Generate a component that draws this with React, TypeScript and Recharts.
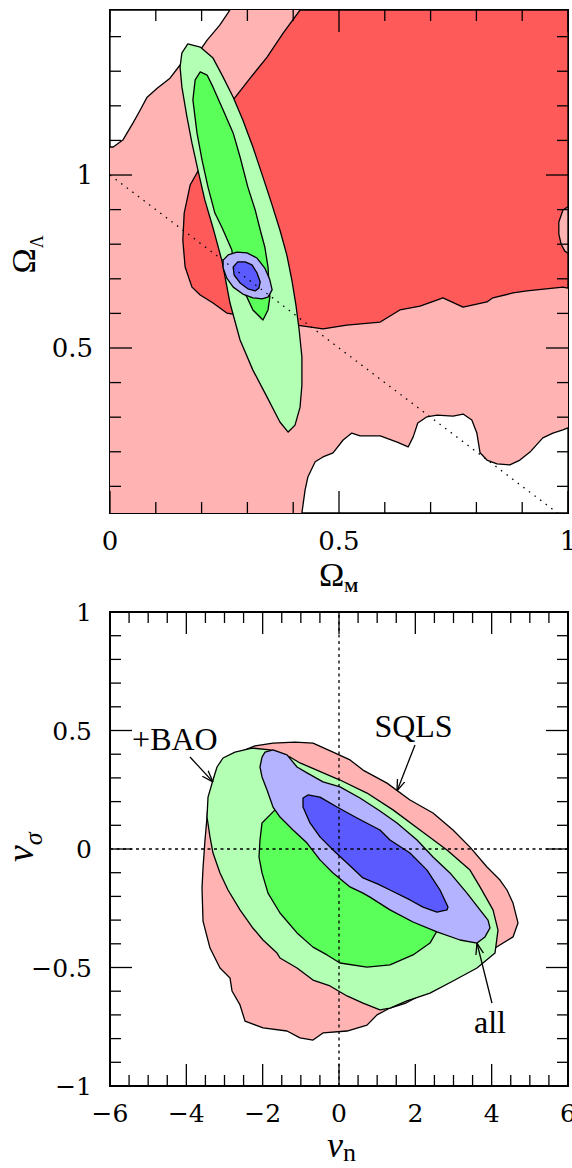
import React from "react";
import { ScatterChart, Scatter, XAxis, YAxis, ReferenceDot } from "recharts";

type Pt = { x: number; y: number };
type Side = "bottom" | "top" | "left" | "right";

// ---------- upper panel: Omega_M vs Omega_Lambda ----------
const omTicks = [0, 0.1, 0.2, 0.3, 0.4, 0.5, 0.6, 0.7, 0.8, 0.9, 1];
const omMajor = [0, 0.5, 1];
const omLabels = ["0", "0.5", "1"];
const olTicks = [0.1, 0.2, 0.3, 0.4, 0.5, 0.6, 0.7, 0.8, 0.9, 1, 1.1, 1.2, 1.3, 1.4];
const olMajor = [0.5, 1];
const olLabels = ["0.5", "1"];
const omDomain: [number, number] = [0, 1];
const olDomain: [number, number] = [0.023, 1.477];

const snPink: Pt[] = [
  { x: 0, y: 0.023 }, { x: 1, y: 0.023 }, { x: 1, y: 1.477 }, { x: 0, y: 1.477 },
];
const snWhiteUpper: Pt[] = [
  { x: 0, y: 1.477 }, { x: 0, y: 1.081 }, { x: 0.007, y: 1.081 }, { x: 0.028, y: 1.101 },
  { x: 0.05, y: 1.15 }, { x: 0.066, y: 1.188 }, { x: 0.081, y: 1.225 }, { x: 0.103, y: 1.251 },
  { x: 0.131, y: 1.28 }, { x: 0.153, y: 1.318 }, { x: 0.197, y: 1.361 }, { x: 0.212, y: 1.39 },
  { x: 0.225, y: 1.41 }, { x: 0.24, y: 1.434 }, { x: 0.262, y: 1.477 },
];
const snRed: Pt[] = [
  { x: 0.415, y: 1.477 }, { x: 1, y: 1.477 }, { x: 1, y: 0.673 }, { x: 0.989, y: 0.676 },
  { x: 0.91, y: 0.665 }, { x: 0.88, y: 0.659 }, { x: 0.836, y: 0.645 }, { x: 0.823, y: 0.633 },
  { x: 0.771, y: 0.618 }, { x: 0.727, y: 0.645 }, { x: 0.677, y: 0.621 }, { x: 0.633, y: 0.61 },
  { x: 0.59, y: 0.575 }, { x: 0.517, y: 0.566 }, { x: 0.465, y: 0.555 }, { x: 0.408, y: 0.566 },
  { x: 0.349, y: 0.581 }, { x: 0.255, y: 0.601 }, { x: 0.225, y: 0.63 }, { x: 0.197, y: 0.653 },
  { x: 0.179, y: 0.676 }, { x: 0.164, y: 0.734 }, { x: 0.159, y: 0.812 }, { x: 0.162, y: 0.89 },
  { x: 0.175, y: 0.971 }, { x: 0.197, y: 1.023 }, { x: 0.229, y: 1.101 }, { x: 0.269, y: 1.217 },
  { x: 0.306, y: 1.28 }, { x: 0.343, y: 1.341 }, { x: 0.378, y: 1.41 },
];
const snBump: Pt[] = [
  { x: 1, y: 0.908 }, { x: 0.989, y: 0.899 }, { x: 0.98, y: 0.864 }, { x: 0.98, y: 0.829 },
  { x: 0.985, y: 0.8 }, { x: 0.993, y: 0.78 }, { x: 1, y: 0.774 },
];
const snWhiteLower: Pt[] = [
  { x: 0.419, y: 0.023 }, { x: 0.426, y: 0.09 }, { x: 0.432, y: 0.127 }, { x: 0.448, y: 0.171 },
  { x: 0.465, y: 0.185 }, { x: 0.487, y: 0.197 }, { x: 0.509, y: 0.234 }, { x: 0.528, y: 0.254 },
  { x: 0.546, y: 0.246 }, { x: 0.59, y: 0.246 }, { x: 0.627, y: 0.228 }, { x: 0.651, y: 0.214 },
  { x: 0.662, y: 0.243 }, { x: 0.672, y: 0.283 }, { x: 0.692, y: 0.301 }, { x: 0.714, y: 0.306 },
  { x: 0.749, y: 0.303 }, { x: 0.771, y: 0.309 }, { x: 0.79, y: 0.292 }, { x: 0.801, y: 0.254 },
  { x: 0.808, y: 0.197 }, { x: 0.823, y: 0.176 }, { x: 0.845, y: 0.165 }, { x: 0.873, y: 0.162 },
  { x: 0.895, y: 0.176 }, { x: 0.917, y: 0.199 }, { x: 0.945, y: 0.24 }, { x: 0.967, y: 0.254 },
  { x: 0.989, y: 0.263 }, { x: 1, y: 0.269 }, { x: 1, y: 0.023 },
];
const baoOuter: Pt[] = [
  { x: 0.17, y: 1.379 }, { x: 0.197, y: 1.37 }, { x: 0.225, y: 1.338 }, { x: 0.247, y: 1.283 },
  { x: 0.269, y: 1.225 }, { x: 0.29, y: 1.159 }, { x: 0.312, y: 1.081 }, { x: 0.334, y: 0.994 },
  { x: 0.354, y: 0.913 }, { x: 0.371, y: 0.841 }, { x: 0.386, y: 0.769 }, { x: 0.397, y: 0.697 },
  { x: 0.406, y: 0.624 }, { x: 0.413, y: 0.552 }, { x: 0.419, y: 0.474 }, { x: 0.419, y: 0.393 },
  { x: 0.415, y: 0.329 }, { x: 0.404, y: 0.277 }, { x: 0.389, y: 0.257 }, { x: 0.371, y: 0.286 },
  { x: 0.343, y: 0.358 }, { x: 0.312, y: 0.436 }, { x: 0.284, y: 0.523 }, { x: 0.262, y: 0.63 },
  { x: 0.245, y: 0.749 }, { x: 0.225, y: 0.847 }, { x: 0.207, y: 0.928 }, { x: 0.192, y: 1.014 },
  { x: 0.179, y: 1.092 }, { x: 0.168, y: 1.168 }, { x: 0.157, y: 1.254 }, { x: 0.153, y: 1.312 },
  { x: 0.157, y: 1.353 },
];
const baoInner: Pt[] = [
  { x: 0.197, y: 1.298 }, { x: 0.212, y: 1.289 }, { x: 0.225, y: 1.254 }, { x: 0.247, y: 1.188 },
  { x: 0.269, y: 1.121 }, { x: 0.284, y: 1.052 }, { x: 0.301, y: 0.965 }, { x: 0.317, y: 0.899 },
  { x: 0.328, y: 0.841 }, { x: 0.338, y: 0.792 }, { x: 0.345, y: 0.734 }, { x: 0.349, y: 0.647 },
  { x: 0.345, y: 0.61 }, { x: 0.334, y: 0.581 }, { x: 0.312, y: 0.61 }, { x: 0.299, y: 0.647 },
  { x: 0.275, y: 0.697 }, { x: 0.266, y: 0.783 }, { x: 0.245, y: 0.847 }, { x: 0.229, y: 0.89 },
  { x: 0.214, y: 0.965 }, { x: 0.201, y: 1.043 }, { x: 0.19, y: 1.121 }, { x: 0.181, y: 1.217 },
  { x: 0.186, y: 1.275 },
];
const allOuter: Pt[] = [
  { x: 0.247, y: 0.754 }, { x: 0.258, y: 0.769 }, { x: 0.277, y: 0.777 }, { x: 0.299, y: 0.775 },
  { x: 0.321, y: 0.76 }, { x: 0.338, y: 0.731 }, { x: 0.349, y: 0.697 }, { x: 0.354, y: 0.668 },
  { x: 0.345, y: 0.647 }, { x: 0.332, y: 0.642 }, { x: 0.312, y: 0.645 }, { x: 0.29, y: 0.656 },
  { x: 0.269, y: 0.676 }, { x: 0.255, y: 0.702 }, { x: 0.247, y: 0.731 },
];
const allInner: Pt[] = [
  { x: 0.269, y: 0.734 }, { x: 0.279, y: 0.749 }, { x: 0.295, y: 0.749 }, { x: 0.31, y: 0.74 },
  { x: 0.321, y: 0.717 }, { x: 0.328, y: 0.691 }, { x: 0.325, y: 0.673 }, { x: 0.317, y: 0.665 },
  { x: 0.301, y: 0.671 }, { x: 0.284, y: 0.688 }, { x: 0.271, y: 0.711 },
];
// flat universe, Omega_M + Omega_Lambda = 1
const flatLine: Pt[] = [{ x: 0, y: 1 }, { x: 0.977, y: 0.023 }];

// ---------- lower panel: nu_n vs nu_sigma ----------
const nnTicks = [-6, -5.5, -5, -4.5, -4, -3.5, -3, -2.5, -2, -1.5, -1, -0.5, 0, 0.5, 1, 1.5, 2, 2.5, 3, 3.5, 4, 4.5, 5, 5.5, 6];
const nnMajor = [-6, -4, -2, 0, 2, 4, 6];
const nnLabels = ["\u22126", "\u22124", "\u22122", "0", "2", "4", "6"];
const nsTicks = [-1, -0.9, -0.8, -0.7, -0.6, -0.5, -0.4, -0.3, -0.2, -0.1, 0, 0.1, 0.2, 0.3, 0.4, 0.5, 0.6, 0.7, 0.8, 0.9, 1];
const nsMajor = [-1, -0.5, 0, 0.5, 1];
const nsLabels = ["\u22121", "\u22120.5", "0", "0.5", "1"];
const nnDomain: [number, number] = [-6, 6];
const nsDomain: [number, number] = [-1, 1];

const sqls: Pt[] = [
  { x: -2.463, y: 0.418 }, { x: -2.201, y: 0.435 }, { x: -1.729, y: 0.447 }, { x: -1.153, y: 0.451 },
  { x: -0.681, y: 0.447 }, { x: -0.157, y: 0.409 }, { x: 0.288, y: 0.376 }, { x: 0.629, y: 0.333 },
  { x: 1.258, y: 0.278 }, { x: 1.86, y: 0.207 }, { x: 2.463, y: 0.152 }, { x: 2.987, y: 0.08 },
  { x: 3.432, y: 0.008 }, { x: 3.877, y: -0.076 }, { x: 4.218, y: -0.131 }, { x: 4.401, y: -0.173 },
  { x: 4.559, y: -0.228 }, { x: 4.69, y: -0.312 }, { x: 4.559, y: -0.371 }, { x: 4.087, y: -0.418 },
  { x: 3.956, y: -0.435 }, { x: 3.17, y: -0.532 }, { x: 2.646, y: -0.574 }, { x: 1.755, y: -0.65 },
  { x: 1.336, y: -0.671 }, { x: 0.996, y: -0.7 }, { x: 0.734, y: -0.743 }, { x: 0.21, y: -0.768 },
  { x: -0.419, y: -0.776 }, { x: -0.681, y: -0.806 }, { x: -1.022, y: -0.797 }, { x: -1.362, y: -0.768 },
  { x: -1.991, y: -0.755 }, { x: -2.463, y: -0.726 }, { x: -2.594, y: -0.658 }, { x: -2.803, y: -0.599 },
  { x: -2.856, y: -0.544 }, { x: -3.118, y: -0.502 }, { x: -3.38, y: -0.418 }, { x: -3.563, y: -0.304 },
  { x: -3.589, y: -0.165 }, { x: -3.563, y: -0.08 }, { x: -3.511, y: 0.038 }, { x: -3.432, y: 0.181 },
  { x: -3.249, y: 0.312 }, { x: -2.856, y: 0.388 },
];
const sqlsBaoOuter: Pt[] = [
  { x: -3.301, y: 0.291 }, { x: -3.196, y: 0.346 }, { x: -3.039, y: 0.384 }, { x: -2.725, y: 0.409 },
  { x: -2.279, y: 0.426 }, { x: -1.808, y: 0.418 }, { x: -1.284, y: 0.388 }, { x: -1.022, y: 0.363 },
  { x: 0.026, y: 0.291 }, { x: 0.734, y: 0.236 }, { x: 1.415, y: 0.165 }, { x: 2.122, y: 0.08 },
  { x: 2.829, y: -0.004 }, { x: 3.432, y: -0.089 }, { x: 3.694, y: -0.16 }, { x: 4.035, y: -0.257 },
  { x: 4.166, y: -0.342 }, { x: 4.087, y: -0.439 }, { x: 3.615, y: -0.502 }, { x: 2.987, y: -0.557 },
  { x: 2.384, y: -0.608 }, { x: 1.781, y: -0.641 }, { x: 1.336, y: -0.671 }, { x: 1.074, y: -0.679 },
  { x: 0.629, y: -0.65 }, { x: 0.21, y: -0.62 }, { x: -0.236, y: -0.578 }, { x: -0.681, y: -0.553 },
  { x: -1.1, y: -0.502 }, { x: -1.546, y: -0.46 }, { x: -1.624, y: -0.439 }, { x: -1.991, y: -0.384 },
  { x: -2.279, y: -0.329 }, { x: -2.594, y: -0.257 }, { x: -2.908, y: -0.173 }, { x: -3.118, y: -0.101 },
  { x: -3.301, y: -0.017 }, { x: -3.38, y: 0.051 }, { x: -3.458, y: 0.135 }, { x: -3.432, y: 0.219 },
];
const sqlsBaoInner: Pt[] = [
  { x: -1.677, y: 0.165 }, { x: -2.017, y: 0.11 }, { x: -2.07, y: 0.038 }, { x: -2.096, y: -0.034 },
  { x: -2.017, y: -0.101 }, { x: -1.86, y: -0.186 }, { x: -1.546, y: -0.27 }, { x: -1.1, y: -0.354 },
  { x: -0.681, y: -0.414 }, { x: -0.314, y: -0.447 }, { x: 0.026, y: -0.481 }, { x: 0.734, y: -0.498 },
  { x: 1.336, y: -0.489 }, { x: 1.939, y: -0.447 }, { x: 2.384, y: -0.397 }, { x: 2.567, y: -0.346 },
  { x: 2.122, y: -0.215 }, { x: 0.812, y: -0.046 }, { x: -0.498, y: 0.08 }, { x: -1.284, y: 0.156 },
];
const combinedOuter: Pt[] = [
  { x: -2.017, y: 0.388 }, { x: -1.939, y: 0.409 }, { x: -1.729, y: 0.418 }, { x: -1.362, y: 0.397 },
  { x: -1.1, y: 0.346 }, { x: -0.838, y: 0.321 }, { x: -0.419, y: 0.283 }, { x: 0.026, y: 0.262 },
  { x: 0.55, y: 0.215 }, { x: 1.074, y: 0.16 }, { x: 1.52, y: 0.11 }, { x: 2.044, y: 0.038 },
  { x: 2.463, y: -0.034 }, { x: 2.908, y: -0.101 }, { x: 3.353, y: -0.186 }, { x: 3.694, y: -0.257 },
  { x: 3.904, y: -0.3 }, { x: 3.956, y: -0.333 }, { x: 3.825, y: -0.371 }, { x: 3.615, y: -0.397 },
  { x: 3.17, y: -0.384 }, { x: 2.567, y: -0.35 }, { x: 1.939, y: -0.308 }, { x: 1.336, y: -0.257 },
  { x: 0.812, y: -0.203 }, { x: 0.629, y: -0.186 }, { x: 0.288, y: -0.16 }, { x: -0.157, y: -0.101 },
  { x: -0.498, y: -0.046 }, { x: -0.838, y: 0.025 }, { x: -1.205, y: 0.08 }, { x: -1.546, y: 0.135 },
  { x: -1.729, y: 0.177 }, { x: -1.886, y: 0.249 }, { x: -2.017, y: 0.304 }, { x: -2.07, y: 0.346 },
];
const combinedInner: Pt[] = [
  { x: -0.943, y: 0.215 }, { x: -0.812, y: 0.228 }, { x: -0.498, y: 0.219 }, { x: -0.052, y: 0.177 },
  { x: 0.472, y: 0.131 }, { x: 1.074, y: 0.08 }, { x: 1.336, y: 0.038 }, { x: 1.86, y: -0.017 },
  { x: 2.306, y: -0.089 }, { x: 2.646, y: -0.173 }, { x: 2.856, y: -0.245 }, { x: 2.829, y: -0.257 },
  { x: 2.567, y: -0.266 }, { x: 2.201, y: -0.245 }, { x: 1.86, y: -0.215 }, { x: 1.336, y: -0.173 },
  { x: 1.022, y: -0.148 }, { x: 0.629, y: -0.122 }, { x: 0.21, y: -0.059 }, { x: -0.157, y: -0.004 },
  { x: -0.498, y: 0.051 }, { x: -0.76, y: 0.11 }, { x: -0.943, y: 0.177 },
];
const zeroV: Pt[] = [{ x: 0, y: -1 }, { x: 0, y: 1 }];
const zeroH: Pt[] = [{ x: -6, y: 0 }, { x: 6, y: 0 }];

// annotations: label anchor (baseline centre), arrow tail, arrow tip
const baoNote = { text: "+BAO", at: { x: -4.3, y: 0.418 }, arrow: [{ x: -3.904, y: 0.388 }, { x: -3.301, y: 0.283 }] };
const sqlsNote = { text: "SQLS", at: { x: 1.952, y: 0.473 }, arrow: [{ x: 1.991, y: 0.439 }, { x: 1.52, y: 0.245 }] };
const allNote = { text: "all", at: { x: 3.956, y: -0.776 }, arrow: [{ x: 4.008, y: -0.65 }, { x: 3.615, y: -0.397 }] };

const PINK = "#ffb3b3";
const RED = "#ff5a5a";
const LGREEN = "#b3ffb3";
const GREEN = "#5aff5a";
const LBLUE = "#b3b3ff";
const BLUE = "#5a5aff";

const TICK_FONT = "'DejaVu Serif', serif";
const TEXT_FONT = "'Liberation Serif', 'Times New Roman', serif";

const noDot = () => null;

const pathOf = (pts: { x: number; y: number }[], close: boolean) =>
  pts.map((q, i) => `${i ? "L" : "M"}${q.x},${q.y}`).join("") + (close ? "Z" : "");

function region(key: string, data: Pt[], fill: string, outline = true) {
  return (
    <Scatter
      key={key}
      data={data}
      fill={fill}
      shape={noDot}
      legendType="none"
      isAnimationActive={false}
      line={(p: any) => (
        <path
          d={pathOf(p.points || [], true)}
          fill={fill}
          stroke={outline ? "#000" : "none"}
          strokeWidth={1.3}
          strokeLinejoin="round"
        />
      )}
    />
  );
}

function stroke(key: string, data: Pt[], dash?: string, arrow = false) {
  return (
    <Scatter
      key={key}
      data={data}
      fill="#000"
      shape={noDot}
      legendType="none"
      isAnimationActive={false}
      line={(p: any) => (
        <path
          d={pathOf(p.points || [], false)}
          fill="none"
          stroke="#000"
          strokeWidth={1.3}
          strokeDasharray={dash}
          markerEnd={arrow ? "url(#openArrow)" : undefined}
        />
      )}
    />
  );
}

function makeTick(side: Side, major: number[], labels: string[] | null, fontSize: number, gap: number) {
  return function TickMark(props: any) {
    const { x, y, payload } = props;
    const v = Number(payload?.value);
    const idx = major.findIndex((m) => Math.abs(m - v) < 1e-6);
    const len = idx >= 0 ? 22 : 11;
    let x2 = x;
    let y2 = y;
    if (side === "bottom") y2 = y - len;
    if (side === "top") y2 = y + len;
    if (side === "left") x2 = x + len;
    if (side === "right") x2 = x - len;
    const label = labels && idx >= 0 ? labels[idx] : null;
    return (
      <g>
        <line x1={x} y1={y} x2={x2} y2={y2} stroke="#000" strokeWidth={1.3} />
        {label && side === "bottom" && (
          <text x={x} y={y + gap} dy="0.36em" textAnchor="middle" fontFamily={TICK_FONT} fontSize={fontSize} fill="#000">
            {label}
          </text>
        )}
        {label && side === "left" && (
          <text x={x - gap} y={y} dy="0.36em" textAnchor="end" fontFamily={TICK_FONT} fontSize={fontSize} fill="#000">
            {label}
          </text>
        )}
      </g>
    );
  };
}

const omBottomTick = makeTick("bottom", omMajor, omLabels, 26, 28);
const omTopTick = makeTick("top", omMajor, null, 26, 0);
const olLeftTick = makeTick("left", olMajor, olLabels, 26, 17);
const olRightTick = makeTick("right", olMajor, null, 26, 0);
const nnBottomTick = makeTick("bottom", nnMajor, nnLabels, 25, 27);
const nnTopTick = makeTick("top", nnMajor, null, 25, 0);
const nsLeftTick = makeTick("left", nsMajor, nsLabels, 25, 18);
const nsRightTick = makeTick("right", nsMajor, null, 25, 0);

const frame = { stroke: "#000", strokeWidth: 2, strokeLinecap: "square" as const };

const OmegaMTitle = (p: any) => {
  const vb = p.viewBox || { x: 0, y: 0, width: 0, height: 0 };
  return (
    <text x={vb.x + vb.width / 2 - 20} y={vb.y + 73} fontFamily={TEXT_FONT} fontSize={34} fill="#000">
      Ω<tspan fontSize={15} fontWeight="bold" dy={6}>M</tspan>
    </text>
  );
};
const OmegaLTitle = (p: any) => {
  const vb = p.viewBox || { x: 0, y: 0, width: 0, height: 0 };
  const tx = vb.x + 5;
  const ty = vb.y + vb.height / 2 + 12;
  return (
    <text transform={`translate(${tx},${ty}) rotate(-90)`} fontFamily={TEXT_FONT} fontSize={34} fill="#000">
      Ω<tspan fontSize={18} dy={8}>Λ</tspan>
    </text>
  );
};
const NuNTitle = (p: any) => {
  const vb = p.viewBox || { x: 0, y: 0, width: 0, height: 0 };
  return (
    <text x={vb.x + vb.width / 2 - 12} y={vb.y + 71} fontFamily={TEXT_FONT} fontSize={36} fill="#000">
      <tspan fontStyle="italic">ν</tspan>
      <tspan fontSize={26} dy={4}>n</tspan>
    </text>
  );
};
const NuSigmaTitle = (p: any) => {
  const vb = p.viewBox || { x: 0, y: 0, width: 0, height: 0 };
  const tx = vb.x + 3;
  const ty = vb.y + vb.height / 2 + 13;
  return (
    <text transform={`translate(${tx},${ty}) rotate(-90)`} fontFamily={TEXT_FONT} fontSize={38} fill="#000">
      <tspan fontStyle="italic">ν</tspan>
      <tspan fontSize={26} fontStyle="italic" dy={9}>σ</tspan>
    </text>
  );
};

const noteShape = (text: string) => (p: any) => (
  <text x={p.cx} y={p.cy} textAnchor="middle" fontFamily={TEXT_FONT} fontSize={32} fill="#000">
    {text}
  </text>
);

export default function App() {
  const notes = [baoNote, sqlsNote, allNote];
  return (
    <div style={{ position: "absolute", left: 0, top: 0, width: 572, height: 1168, background: "#fff" }}>
      <svg width={0} height={0} style={{ position: "absolute" }}>
        <defs>
          <marker
            id="openArrow"
            viewBox="0 0 12 10"
            refX={11.5}
            refY={5}
            markerWidth={12}
            markerHeight={10}
            markerUnits="userSpaceOnUse"
            orient="auto"
          >
            <path d="M0,1 L11.5,5 L0,9" fill="none" stroke="#000" strokeWidth={1.3} />
          </marker>
        </defs>
      </svg>

      <div style={{ position: "absolute", left: 0, top: 0 }}>
        <ScatterChart width={572} height={600} margin={{ top: 9, right: 3, bottom: 27, left: 30 }}>
          {region("pink", snPink, PINK, false)}
          {region("whiteUp", snWhiteUpper, "#ffffff")}
          {region("red", snRed, RED)}
          {region("bump", snBump, PINK)}
          {region("whiteLow", snWhiteLower, "#ffffff")}
          {region("baoOuter", baoOuter, LGREEN)}
          {region("baoInner", baoInner, GREEN)}
          {region("allOuter", allOuter, LBLUE)}
          {region("allInner", allInner, BLUE)}
          {stroke("flat", flatLine, "1.5 5.5")}
          <XAxis
            type="number"
            dataKey="x"
            domain={omDomain}
            ticks={omTicks}
            interval={0}
            tick={omBottomTick}
            tickLine={false}
            tickSize={0}
            tickMargin={0}
            axisLine={frame}
            height={60}
            allowDataOverflow
            label={OmegaMTitle}
          />
          <XAxis
            xAxisId="top"
            orientation="top"
            type="number"
            dataKey="x"
            domain={omDomain}
            ticks={omTicks}
            interval={0}
            tick={omTopTick}
            tickLine={false}
            tickSize={0}
            tickMargin={0}
            axisLine={frame}
            height={1}
            allowDataOverflow
          />
          <YAxis
            type="number"
            dataKey="y"
            domain={olDomain}
            ticks={olTicks}
            interval={0}
            tick={olLeftTick}
            tickLine={false}
            tickSize={0}
            tickMargin={0}
            axisLine={frame}
            width={80}
            allowDataOverflow
            label={OmegaLTitle}
          />
          <YAxis
            yAxisId="right"
            orientation="right"
            type="number"
            dataKey="y"
            domain={olDomain}
            ticks={olTicks}
            interval={0}
            tick={olRightTick}
            tickLine={false}
            tickSize={0}
            tickMargin={0}
            axisLine={frame}
            width={1}
            allowDataOverflow
          />
        </ScatterChart>
      </div>

      <div style={{ position: "absolute", left: 0, top: 590 }}>
        <ScatterChart width={572} height={578} margin={{ top: 21, right: 3, bottom: 22, left: 30 }}>
          {region("sqls", sqls, PINK)}
          {region("sqlsBaoOuter", sqlsBaoOuter, LGREEN)}
          {region("sqlsBaoInner", sqlsBaoInner, GREEN)}
          {region("combinedOuter", combinedOuter, LBLUE)}
          {region("combinedInner", combinedInner, BLUE)}
          {stroke("zeroV", zeroV, "3 3.5")}
          {stroke("zeroH", zeroH, "3 3.5")}
          {notes.map((n) => stroke(`arrow-${n.text}`, n.arrow, undefined, true))}
          {notes.map((n) => (
            <ReferenceDot
              key={`note-${n.text}`}
              x={n.at.x}
              y={n.at.y}
              r={0}
              shape={noteShape(n.text)}
            />
          ))}
          <XAxis
            type="number"
            dataKey="x"
            domain={nnDomain}
            ticks={nnTicks}
            interval={0}
            tick={nnBottomTick}
            tickLine={false}
            tickSize={0}
            tickMargin={0}
            axisLine={frame}
            height={60}
            allowDataOverflow
            label={NuNTitle}
          />
          <XAxis
            xAxisId="top"
            orientation="top"
            type="number"
            dataKey="x"
            domain={nnDomain}
            ticks={nnTicks}
            interval={0}
            tick={nnTopTick}
            tickLine={false}
            tickSize={0}
            tickMargin={0}
            axisLine={frame}
            height={1}
            allowDataOverflow
          />
          <YAxis
            type="number"
            dataKey="y"
            domain={nsDomain}
            ticks={nsTicks}
            interval={0}
            tick={nsLeftTick}
            tickLine={false}
            tickSize={0}
            tickMargin={0}
            axisLine={frame}
            width={80}
            allowDataOverflow
            label={NuSigmaTitle}
          />
          <YAxis
            yAxisId="right"
            orientation="right"
            type="number"
            dataKey="y"
            domain={nsDomain}
            ticks={nsTicks}
            interval={0}
            tick={nsRightTick}
            tickLine={false}
            tickSize={0}
            tickMargin={0}
            axisLine={frame}
            width={1}
            allowDataOverflow
          />
        </ScatterChart>
      </div>
    </div>
  );
}
